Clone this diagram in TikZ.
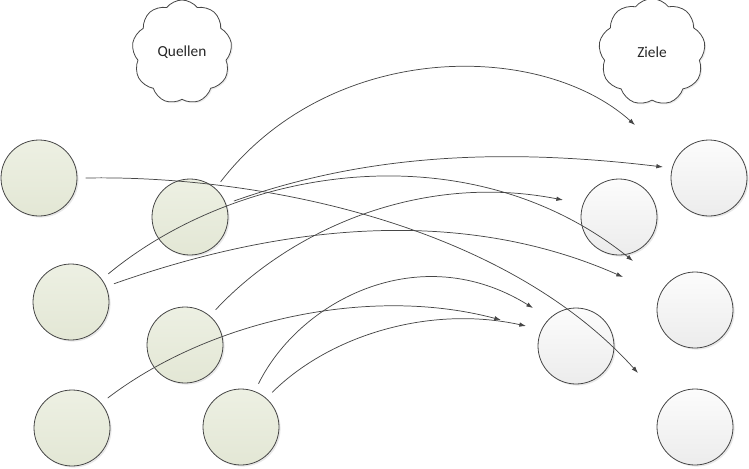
\documentclass[tikz,border=0pt]{standalone}
\usepackage{fontspec}
\setmainfont{Carlito}
\usetikzlibrary{arrows.meta,positioning,shapes.symbols,shadows}
\definecolor{quelloben}{RGB}{237,240,227}
\definecolor{quellunten}{RGB}{227,231,213}
\definecolor{zieloben}{RGB}{252,252,252}
\definecolor{zielunten}{RGB}{236,236,236}
\definecolor{linie}{RGB}{70,70,70}

\begin{document}
\begin{tikzpicture}[
		x=0.75pt,y=-0.75pt,
		>={Latex[length=5pt,width=3.4pt]},
		quelle/.style={draw=linie,line width=0.6pt,circle,minimum size=57pt,outer sep=6.5pt,
			top color=quelloben,bottom color=quellunten,
			drop shadow={opacity=0.18,shadow xshift=1.2pt,shadow yshift=-1.2pt}},
		ziel/.style={quelle,top color=zieloben,bottom color=zielunten},
		wolke/.style={draw=linie,line width=0.6pt,cloud,cloud puffs=9,cloud puff arc=105,aspect=1,
			fill=white,font=\fontsize{11.5}{14}\selectfont,text=black!85,
			drop shadow={opacity=0.15,shadow xshift=1pt,shadow yshift=-1pt}},
		pfeil/.style={->,draw=linie,line width=0.55pt}
	]
	\useasboundingbox (0,0) rectangle (749,468) ;

	\node [wolke,minimum width=75pt,minimum height=78pt] (Quellen) at (182,52) {Quellen} ;
	\node [wolke,minimum width=80pt,minimum height=80pt] (Ziele)   at (652,52) {Ziele} ;

	% Quellen
	\node [quelle] (Q1) at (39,178)  {} ;
	\node [quelle] (Q2) at (190,217) {} ;
	\node [quelle] (Q3) at (71,302)  {} ;
	\node [quelle] (Q4) at (185,345) {} ;
	\node [quelle] (Q5) at (72,428)  {} ;
	\node [quelle] (Q6) at (241,427) {} ;

	% Ziele
	\node [ziel] (Z1) at (709,178) {} ;
	\node [ziel] (Z2) at (619,217) {} ;
	\node [ziel] (Z3) at (695,310) {} ;
	\node [ziel] (Z4) at (576,346) {} ;
	\node [ziel] (Z5) at (695,427) {} ;

	\coordinate (E1) at (635,125) ;
	\coordinate (E2) at (638,373) ;
	\coordinate (E3) at (663,167) ;
	\coordinate (E4) at (633,261) ;
	\coordinate (E5) at (623,277) ;
	\coordinate (E6) at (563,200) ;
	\coordinate (E7) at (501,320) ;
	\coordinate (E8) at (533,308) ;
	\coordinate (E9) at (526,326) ;

	\draw [pfeil] (Q2.49)  .. controls (330,40)  and (540,40)  .. (E1) ;
	\draw [pfeil] (Q1.east) .. controls (250,175) and (500,220) .. (E2) ;
	\draw [pfeil] (Q2.20)  .. controls (350,160) and (480,145) .. (E3) ;
	\draw [pfeil] (Q3.37)  .. controls (240,165) and (470,130) .. (E4) ;
	\draw [pfeil] (Q3.23)  .. controls (280,225) and (460,205) .. (E5) ;
	\draw [pfeil] (Q4.49)  .. controls (290,230) and (420,172) .. (E6) ;
	\draw [pfeil] (Q5.40)  .. controls (210,320) and (370,285) .. (E7) ;
	\draw [pfeil] (Q6.68)  .. controls (300,300) and (420,238) .. (E8) ;
	\draw [pfeil] (Q6.48)  .. controls (330,335) and (430,305) .. (E9) ;
\end{tikzpicture}
\end{document}
